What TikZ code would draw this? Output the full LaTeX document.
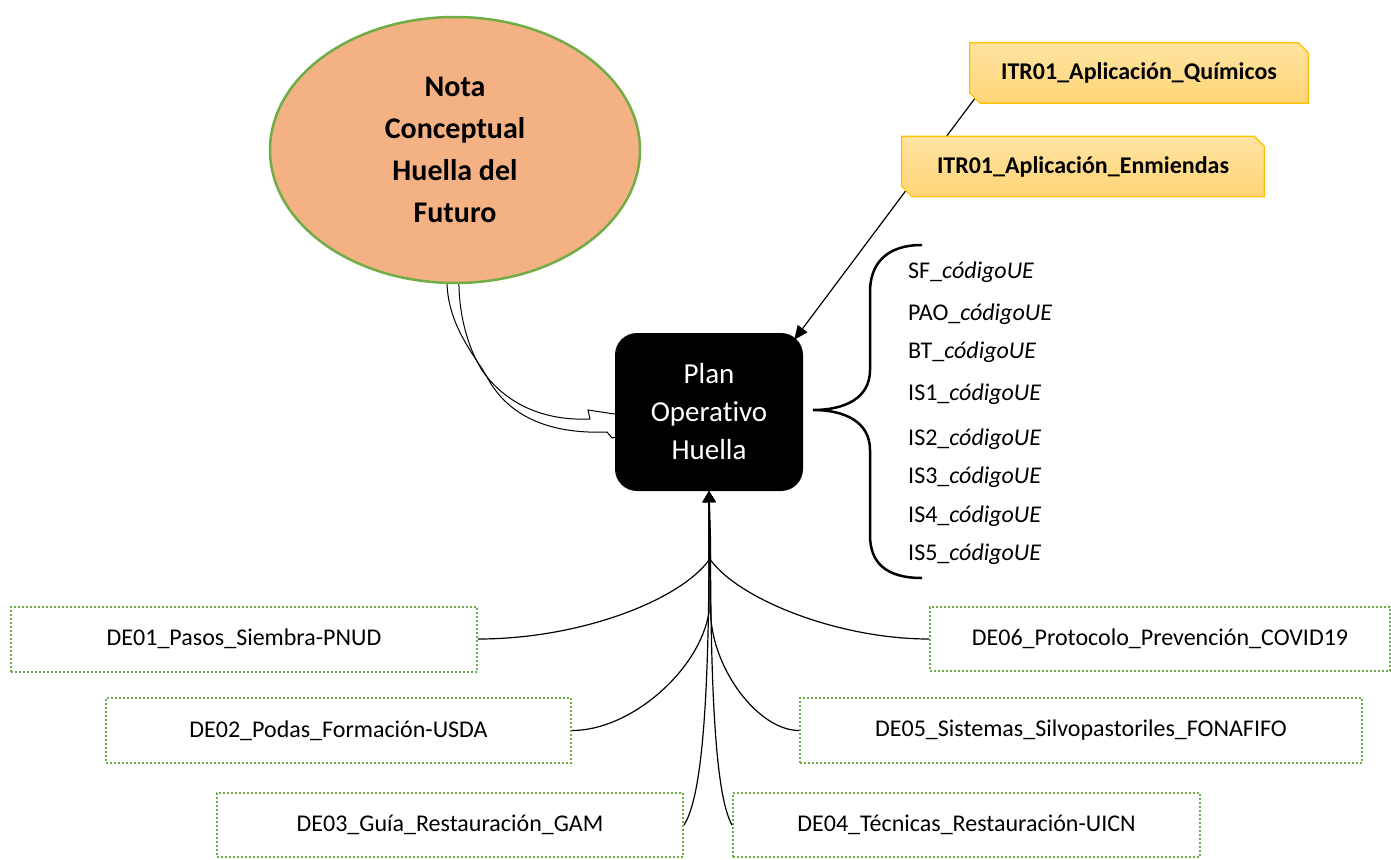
\documentclass[tikz,border=0pt]{standalone}
\usepackage{fontspec}
\setmainfont{Carlito}[Ligatures=NoCommon]
\usetikzlibrary{shapes.geometric,arrows.meta,calc}
\pgfdeclarelayer{bg}
\pgfdeclarelayer{mid}
\pgfsetlayers{bg,mid,main}
\definecolor{ellfill}{HTML}{F4B183}
\definecolor{grn}{HTML}{70AD47}
\definecolor{gold}{HTML}{FFC000}
\definecolor{ytop}{HTML}{FFE4A3}
\definecolor{ybot}{HTML}{FFD476}
\tikzset{
 debox/.style={draw=grn, line width=2pt, dash pattern=on 2pt off 2pt, minimum height=65pt, inner sep=0pt, font=\fontsize{24}{29}\selectfont},
 itrbox/.style={minimum height=60pt, inner sep=0pt, font=\bfseries\fontsize{24}{29}\selectfont},
 conn/.style={line width=1.2pt, -{Triangle[width=13pt,length=11pt]}},
 brtext/.style={anchor=base west, inner sep=0pt, font=\fontsize{24}{28}\selectfont},
 thinline/.style={line width=1pt},
}
\begin{document}
\begin{tikzpicture}[x=1pt,y=-1pt]
\useasboundingbox (0,0) rectangle (1391,859);
% main nodes
\node[ellipse, fill=ellfill, draw=grn, line width=2.5pt, minimum width=370pt, minimum height=266pt, inner sep=0pt, align=center, font=\bfseries\fontsize{30}{42}\selectfont] (nota) at (455,150) {Nota\\Conceptual\\Huella del\\Futuro};
\node[fill=black, rounded corners=22pt, minimum width=188pt, minimum height=158pt, inner sep=0pt, text=white, align=center, font=\fontsize{29}{38}\selectfont] (plan) at (709,412) {Plan\\Operativo\\Huella};
% ITR boxes
\node[itrbox, minimum width=338pt] (q) at (1139,73) {ITR01\_Aplicación\_Químicos};
\node[itrbox, minimum width=362pt] (e) at (1083,166.5) {ITR01\_Aplicación\_Enmiendas};
\begin{pgfonlayer}{mid}
\foreach \n in {q,e} {
 \shade[top color=ytop, bottom color=ybot, draw=gold, line width=1.2pt]
   (\n.north west) -- ($(\n.north east)+(-10,0)$) -- ($(\n.north east)+(0,10)$) -- (\n.south east) -- ($(\n.south west)+(10,0)$) -- ($(\n.south west)+(0,-10)$) -- cycle;
}
\end{pgfonlayer}
\begin{pgfonlayer}{bg}
\draw[line width=1.2pt, -{Triangle[width=12pt,length=14pt]}] ($(q.south west)+(6,-6)$) -- ($(plan.north east)+(-9,7)$);
% curved block arrow from the ellipse
\coordinate (m) at (487,377);
\draw[thinline] ($(nota.south)+(4,-6)$) .. controls (458,320) and (472,359) .. (m) .. controls (510,405) and (545,421) .. (590,419) -- (588,410) -- ($(plan.west)+(6,3)$);
\draw[thinline] ($(nota.south)+(-8,-6)$) .. controls (446,325) and (477,358) .. (m) .. controls (510,420) and (555,434) .. (607,432) -- (612,438) -- ($(plan.west)+(6,24)$);
\end{pgfonlayer}
% brace
\draw[line width=2.5pt] (922,245) .. controls (885,245) and (870,265) .. (870,292) -- (870,370) .. controls (870,398) and (845,410) .. (813,410) .. controls (845,410) and (870,422) .. (870,450) -- (870,535) .. controls (870,562) and (885,578) .. (922,578);
\node[brtext] (b1) at (908,278) {SF\_\textit{códigoUE}};
\node[brtext] (b2) at (908,320) {PAO\_\textit{códigoUE}};
\node[brtext] (b3) at (908,358) {BT\_\textit{códigoUE}};
\node[brtext] (b4) at (908,400) {IS1\_\textit{códigoUE}};
\node[brtext] (b5) at (908,445) {IS2\_\textit{códigoUE}};
\node[brtext] (b6) at (908,483) {IS3\_\textit{códigoUE}};
\node[brtext] (b7) at (908,522) {IS4\_\textit{códigoUE}};
\node[brtext] (b8) at (908,560) {IS5\_\textit{códigoUE}};
% DE boxes
\node[debox, minimum width=466pt] (de01) at (244,639) {DE01\_Pasos\_Siembra-PNUD};
\node[debox, minimum width=465pt] (de02) at (338.5,730.5) {DE02\_Podas\_Formación-USDA};
\node[debox, minimum width=466pt, minimum height=64pt] (de03) at (450,825) {DE03\_Guía\_Restauración\_GAM};
\node[debox, minimum width=467pt, minimum height=64pt] (de04) at (966.5,825) {DE04\_Técnicas\_Restauración-UICN};
\node[debox, minimum width=562pt] (de05) at (1081,730.5) {DE05\_Sistemas\_Silvopastoriles\_FONAFIFO};
\node[debox, minimum width=460pt, minimum height=64pt] (de06) at (1160,639) {DE06\_Protocolo\_Prevención\_COVID19};
% junctions
\coordinate (j1l) at (709,560);
\coordinate (j1r) at (710.5,560);
\coordinate (j2l) at (709,612);
\coordinate (j2r) at (710.5,612);
\coordinate (j3l) at (709,540);
\coordinate (j3r) at (710.5,540);
% connectors
\draw[conn] (de01.east) .. controls +(103,0) and (680,600) .. (j1l) -- (plan.south);
\draw[conn] (de06.west) .. controls +(-90,0) and (740,600) .. (j1r) -- (plan.south);
\draw[conn] (de02.east) .. controls +(59,0) and (700,670) .. (j2l) -- (plan.south);
\draw[conn] (de05.west) .. controls +(-40,0) and (712,670) .. (j2r) -- (plan.south);
\draw[conn] (de03.east) .. controls (700,800) and (709,720) .. (j3l) -- (plan.south);
\draw[conn] (de04.west) .. controls (718,800) and (710.5,720) .. (j3r) -- (plan.south);
\end{tikzpicture}
\end{document}
